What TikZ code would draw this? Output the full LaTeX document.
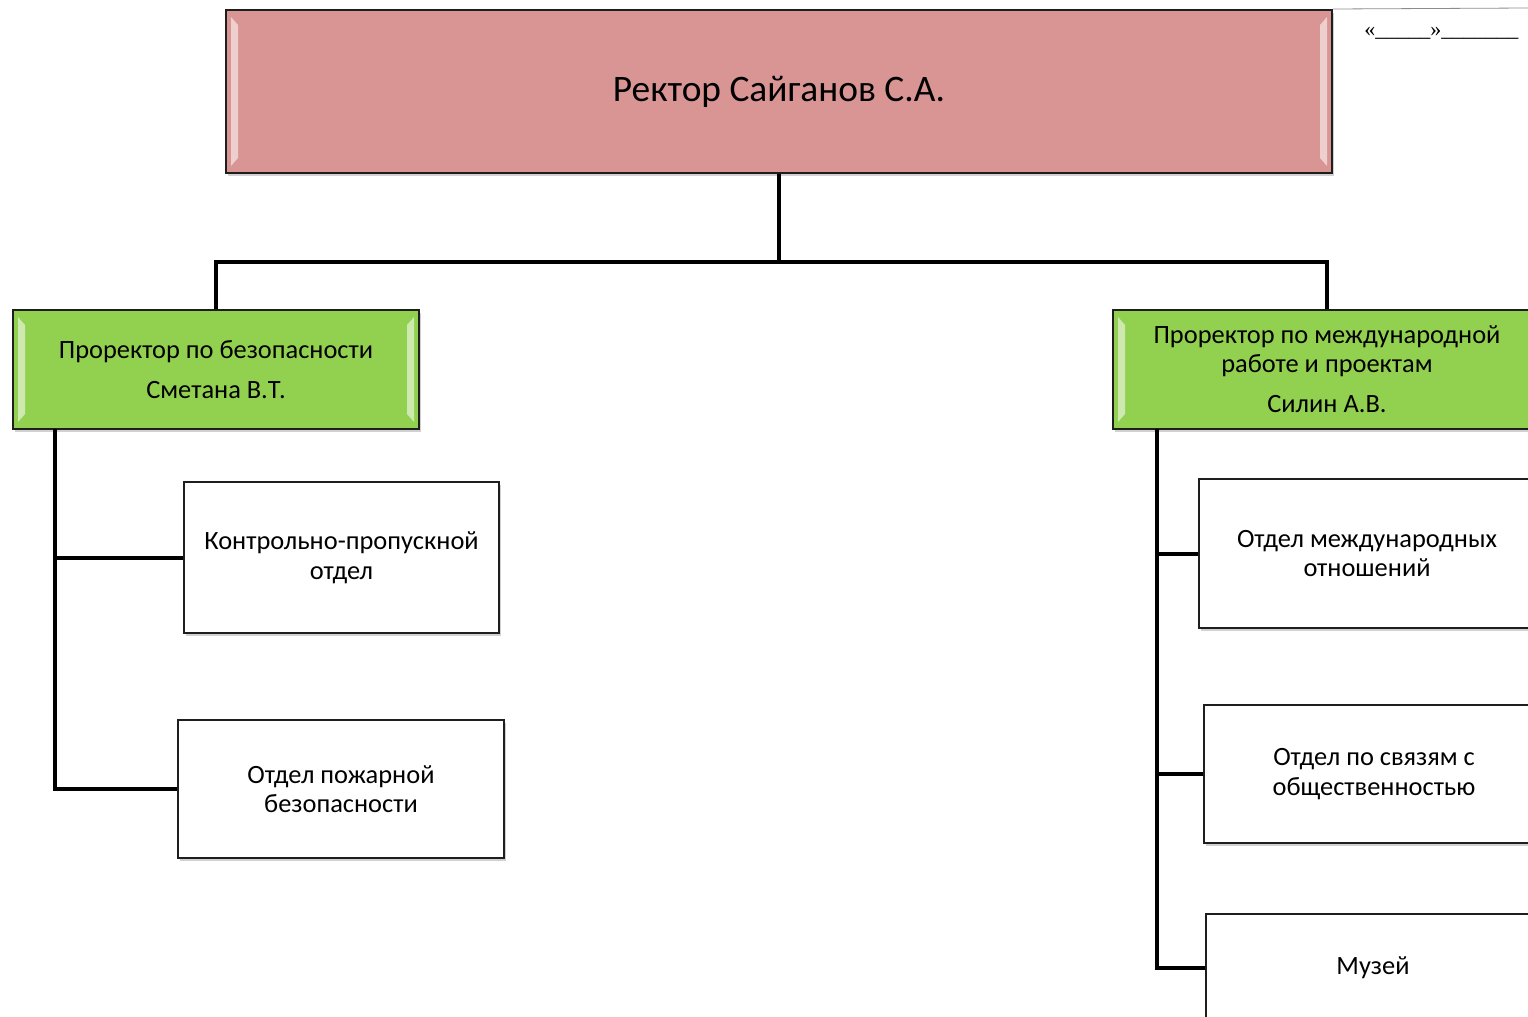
\documentclass[tikz,border=0pt]{standalone}
\usepackage{fontspec}
\setmainfont{Carlito}
\newfontfamily\serifnote{Liberation Serif}
\usetikzlibrary{calc,shadows}

\definecolor{rectorpink}{HTML}{D89594}
\definecolor{vpgreen}{HTML}{92D050}
\definecolor{boxedge}{HTML}{1E1E1E}

\tikzset{
  boxshadow/.style={drop shadow={shadow xshift=0.8pt, shadow yshift=-1.5pt, opacity=0.3, fill=black!60}},
  rectorbox/.style={draw=boxedge, line width=1pt, fill=rectorpink, boxshadow,
    font=\fontsize{18.7}{22}\selectfont},
  vicebox/.style={draw=boxedge, line width=1pt, fill=vpgreen, boxshadow, align=center,
    minimum height=59.5pt, font=\fontsize{13.2}{14.5}\selectfont},
  deptbox/.style={draw=boxedge, line width=1pt, fill=white, boxshadow, align=center,
    font=\fontsize{13.2}{14.8}\selectfont},
  link/.style={line width=2pt, black},
}

% light bevel strips inside a box
\newcommand\bevel[1]{%
  \fill[white,opacity=0.55] ($(#1.north west)+(6,8)$) -- ($(#1.north west)+(13,16)$)
    -- ($(#1.south west)+(13,-16)$) -- ($(#1.south west)+(6,-8)$) -- cycle;
  \fill[white,opacity=0.55] ($(#1.north east)+(-6,8)$) -- ($(#1.north east)+(-13,16)$)
    -- ($(#1.south east)+(-13,-16)$) -- ($(#1.south east)+(-6,-8)$) -- cycle;
}

\begin{document}
\begin{tikzpicture}[x=0.5pt,y=-0.5pt]

\useasboundingbox (0,0) rectangle (1528,1017);
\clip (0,0) rectangle (1528,1017);

% rector
\node[rectorbox, minimum width=553pt, minimum height=81.5pt] (rector) at (779,91.5) {Ректор Сайганов С.А.};
\bevel{rector}

% vice-rectors
\node[vicebox, minimum width=203pt] (vpsafe) at (216,369.5)
  {Проректор по безопасности\\[5.5pt] Сметана В.Т.};
\node[vicebox, minimum width=214pt] (vpintl) at (1327,369.5)
  {Проректор по международной\\ работе и проектам\\[5.5pt] Силин А.В.};
\bevel{vpsafe}
\bevel{vpintl}

% departments
\node[deptbox, minimum width=157.5pt, minimum height=75.5pt] (kpp) at (341.5,557.5)
  {Контрольно-пропускной\\ отдел};
\node[deptbox, minimum width=163pt, minimum height=69pt] (fire) at (341,789)
  {Отдел пожарной\\ безопасности};
\node[deptbox, minimum width=168pt, minimum height=74.5pt] (intrel) at (1367,553.5)
  {Отдел международных\\ отношений};
\node[deptbox, minimum width=170pt, minimum height=69pt] (pubrel) at (1374,774)
  {Отдел по связям с\\ общественностью};
\node[deptbox, minimum width=167pt, minimum height=54pt] (museum) at (1373,968)
  {Музей};

% connectors
\coordinate (hub) at (779,262);
\coordinate (trunkL) at (55,429);
\coordinate (trunkR) at (1157,429);

\draw[link] (rector.south) -- (hub);
\draw[link] (vpsafe.north) |- (hub) -| (vpintl.north);

\draw[link] (trunkL) |- (fire.west);
\draw[link] (trunkL) |- (kpp.west);

\draw[link] (trunkR) |- (museum.west);
\draw[link] (trunkR) |- (intrel.west);
\draw[link] (trunkR) |- (pubrel.west);

% approval field
\coordinate (topline) at (1528,8);
\draw[black!45, line width=0.4pt] (rector.north east) -- (topline);
\node[anchor=west, inner sep=0pt, font=\serifnote\fontsize{11}{13}\selectfont] (datefield) at (1364,33)
  {«\_\_\_\_\_»\_\_\_\_\_\_\_};

\end{tikzpicture}
\end{document}
